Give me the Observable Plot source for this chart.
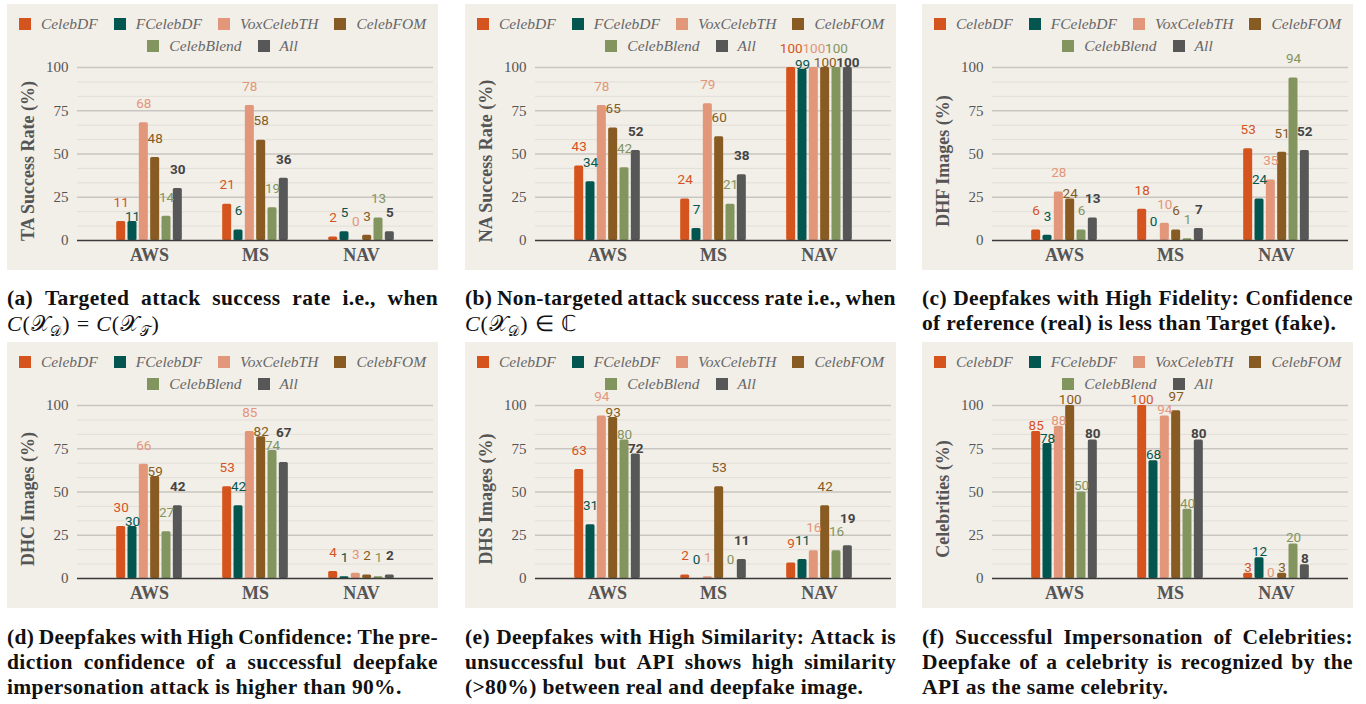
<!DOCTYPE html>
<html><head><meta charset="utf-8">
<script src="https://cdn.jsdelivr.net/npm/d3@7"></script>
<script src="https://cdn.jsdelivr.net/npm/@observablehq/plot@0.6"></script>
<style>
html,body{margin:0;padding:0;background:#fff;}
body{width:1366px;height:704px;position:relative;overflow:hidden;font-family:"Liberation Serif",serif;}
.panel{position:absolute;width:431px;height:266px;background:#f2eee8;overflow:visible;}
.legend{height:53px;box-sizing:border-box;padding-top:9px;}
.lg-swatches{font-family:"Liberation Serif",serif!important;font-style:italic;font-size:15.5px!important;color:#666!important;margin:0 auto!important;width:414px;}
.lg-swatches-wrap{display:flex!important;flex-wrap:wrap!important;justify-content:center!important;column-gap:16px;row-gap:0;min-height:0!important;}
.lg-swatch{margin-right:0!important;height:22px;display:inline-flex;align-items:center;}
.lg-swatch>svg{margin-right:10px!important;}
.cap{position:absolute;width:431px;font-family:"Liberation Serif",serif;font-weight:bold;font-size:21.5px;letter-spacing:0.35px;line-height:25px;color:#111;}
.cap .j{display:flex;justify-content:space-between;white-space:nowrap;}
.cap .l{text-align:left;white-space:nowrap;}
.m{font-weight:normal;letter-spacing:0.8px;font-size:22px;}
.m sub{font-size:14px;line-height:0;}
</style>
</head><body>
<script>
const groups = ["AWS","MS","NAV"];
const series = ["CelebDF","FCelebDF","VoxCelebTH","CelebFOM","CelebBlend","All"];
const colors = ["#d5541d","#02564f","#e2967a","#875b21","#82955f","#575757"];
const yTicks = [0,25,50,75,100];

// values[series][group]  (AWS, MS, NAV)
const taRate      = [[11,21,2],[11,6,5],[68,78,0],[48,58,3],[14,19,13],[30,36,5]];
const naRate      = [[43,24,100],[34,7,99],[78,79,100],[65,60,100],[42,21,100],[52,38,100]];
const dhfImages   = [[6,18,53],[3,0,24],[28,10,35],[24,6,51],[6,1,94],[13,7,52]];
const dhcImages   = [[30,53,4],[30,42,1],[66,85,3],[59,82,2],[27,74,1],[42,67,2]];
const dhsImages   = [[63,2,9],[31,0,11],[94,1,16],[93,53,42],[80,0,16],[72,11,19]];
const celebrities = [[85,100,3],[78,68,12],[88,94,0],[100,97,3],[50,40,20],[80,80,8]];

const yLabels = ["TA Success Rate (%)","NA Success Rate (%)","DHF Images (%)","DHC Images (%)","DHS Images (%)","Celebrities (%)"];

const mathA = '<span class="m"><i>C</i>(𝒳<sub>𝒟</sub>) = <i>C</i>(𝒳<sub>𝒯</sub>)</span>';
const mathB = '<span class="m"><i>C</i>(𝒳<sub>𝒟</sub>) ∈ ℂ</span>';
const captions = [
  ["(a) Targeted attack success rate i.e., when", mathA],
  ["(b) Non-targeted attack success rate i.e., when", mathB],
  ["(c) Deepfakes with High Fidelity: Confidence", "of reference (real) is less than Target (fake)."],
  ["(d) Deepfakes with High Confidence: The pre-", "diction confidence of a successful deepfake", "impersonation attack is higher than 90%."],
  ["(e) Deepfakes with High Similarity: Attack is", "unsuccessful but API shows high similarity", "(>80%) between real and deepfake image."],
  ["(f) Successful Impersonation of Celebrities:", "Deepfake of a celebrity is recognized by the", "API as the same celebrity."]
];

const panelValues = [taRate, naRate, dhfImages, dhcImages, dhsImages, celebrities];
const panelLeft = [7, 465, 922, 7, 465, 922];
const panelTop = [4, 4, 4, 342, 342, 342];
const captionTop = [286, 286, 286, 625, 625, 625];
const labelOffset = [19, 19, 19, 19, 19, 6];

function makeChart(vals, ylabel, off) {
  const W = 431, H = 213, ML = 70, MR = 5, MT = 10, MB = 30, IN = 19;
  const bw = (W - ML - MR - 2 * IN) / groups.length;
  const sub = bw * 0.1069, g = 1.17, lowOff = 5, lineH = 13;
  const k = (H - MT - MB) / 100;
  const fs = 13.5, digitW = fs * 0.56;
  const rows = series.flatMap((s, i) => groups.map((grp, j) => ({
    group: grp, series: s, i, j, value: vals[i][j]
  })));
  // label collision avoidance against the left neighbour label
  groups.forEach((grp, j) => {
    let prev = null;
    series.forEach((s, i) => {
      const d = rows.find(r => r.i === i && r.j === j);
      const w = String(d.value).length * digitW;
      const base = d.value * k;
      let pos = base + off;
      if (prev && (w + prev.w) / 2 > sub + 1 && Math.abs(pos - prev.pos) < lineH) {
        pos = base + lowOff;
        if (Math.abs(pos - prev.pos) < lineH) pos = Math.max(prev.pos + lineH, base + lowOff);
      }
      d.dy = -Math.round(pos - base);
      prev = {pos, w};
    });
  });
  const minor = d3.range(0, 100.001, 100 / 12).filter(v => !yTicks.some(t => Math.abs(t - v) < 0.01));
  const marks = [
    Plot.ruleY(minor, {stroke: "#e2ded7", strokeWidth: 1}),
    Plot.ruleY(yTicks.slice(1), {stroke: "#c9c6c1", strokeWidth: 1.3})
  ];
  series.forEach((s, i) => {
    const r = rows.filter(d => d.i === i);
    marks.push(Plot.barY(r, {
      x: "group", y: "value", fill: "series",
      insetLeft: bw / 2 + (i - 3) * sub + g,
      insetRight: bw / 2 - (i - 2) * sub + g,
      rx: 1.5
    }));
  });
  marks.push(Plot.ruleY([0], {stroke: "#3a3a3a", strokeWidth: 1.5}));
  series.forEach((s, i) => {
    const r = rows.filter(d => d.i === i);
    const common = {
      x: "group", y: "value", text: d => String(d.value), dx: (i - 2.5) * sub,
      fill: i === 5 ? "#444" : colors[i], fontWeight: i === 5 ? "bold" : "normal",
      fontFamily: "Roboto", fontSize: fs
    };
    for (const [dy, rs] of d3.group(r, d => d.dy)) {
      marks.push(Plot.text(rs, {...common, dy}));
    }
  });
  marks.push(Plot.axisY({ticks: yTicks, tickSize: 0, tickPadding: 9, fontSize: 15, fontFamily: "Liberation Serif", label: null, fill: "#555"}));
  marks.push(Plot.axisX({tickSize: 0, tickPadding: 8, fontSize: 18, fontWeight: "bold", fontFamily: "Liberation Serif", label: null, fill: "#555"}));
  marks.push(Plot.text([ylabel], {
    text: d => d, frameAnchor: "left", textAnchor: "middle", rotate: -90, dx: -49, dy: 7,
    fontSize: 18, fontWeight: "bold", fontFamily: "Liberation Serif", fill: "#555"
  }));
  return Plot.plot({
    width: W, height: H, marginLeft: ML, marginRight: MR, marginTop: MT, marginBottom: MB,
    x: {domain: groups, padding: 0, insetLeft: IN, insetRight: IN},
    y: {domain: [0, 100]},
    color: {domain: series, range: colors},
    style: {background: "transparent", overflow: "visible", color: "#555"},
    marks
  });
}

panelValues.forEach((vals, n) => {
  const panel = document.createElement("div");
  panel.className = "panel";
  panel.style.left = panelLeft[n] + "px";
  panel.style.top = panelTop[n] + "px";
  const lg = document.createElement("div");
  lg.className = "legend";
  lg.appendChild(Plot.legend({color: {type: "ordinal", domain: series, range: colors}, legend: "swatches", swatchSize: 12, className: "lg"}));
  panel.appendChild(lg);
  panel.appendChild(makeChart(vals, yLabels[n], labelOffset[n]));
  document.body.appendChild(panel);

  const cap = document.createElement("div");
  cap.className = "cap";
  cap.style.left = panelLeft[n] + "px";
  cap.style.top = captionTop[n] + "px";
  const lines = captions[n];
  lines.forEach((t, m) => {
    const d = document.createElement("div");
    if (m < lines.length - 1 && !t.startsWith("<")) {
      d.className = "j";
      t.split(" ").forEach(w => {
        const s = document.createElement("span");
        s.textContent = w;
        d.appendChild(s);
      });
    } else {
      d.className = "l";
      d.innerHTML = t;
    }
    cap.appendChild(d);
  });
  document.body.appendChild(cap);
});
</script>
</body></html>
